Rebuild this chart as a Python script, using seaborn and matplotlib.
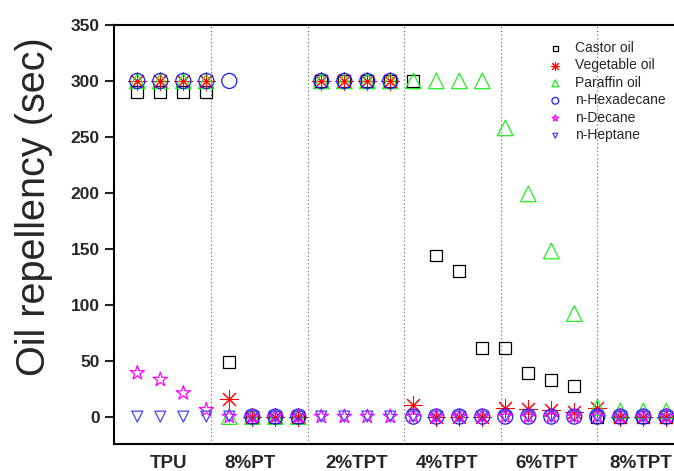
import matplotlib
matplotlib.use("Agg")
import matplotlib.pyplot as plt
import seaborn as sns
import numpy as np
import pandas as pd

# ---------------- data ----------------
groups = ["TPU", "8%PT", "2%TPT", "4%TPT", "6%TPT", "8%TPT"]
sample_x = [1, 2, 3, 4, 5, 6, 7, 8, 9, 10, 11, 12,
            13, 14, 15, 16, 17, 18, 19, 20, 21, 22, 23, 24]

castor_oil = [290, 290, 290, 290, 49, 0, 0, 0, 300, 300, 300, 300,
              300, 144, 130, 61, 61, 39, 33, 27, 0, 0, 0, 0]
vegetable_oil = [300, 300, 300, 300, 16, 0, 0, 0, 300, 300, 300, 300,
                 10, 0, 0, 0, 8, 7, 6, 4, 8, 0, 0, 0]
paraffin_oil = [300, 300, 300, 300, 0, 0, 0, 0, 300, 300, 300, 300,
                300, 300, 300, 300, 258, 199, 148, 92, 8, 5, 5, 5]
n_hexadecane = [300, 300, 300, 300, 300, 0, 0, 0, 300, 300, 300, 300,
                0, 0, 0, 0, 0, 0, 0, 0, 0, 0, 0, 0]
n_decane = [39, 33, 21, 6, 0, 0, 0, 0, 0, 0, 0, 0,
            0, 0, 0, 0, 0, 0, 0, 0, 0, 0, 0, 0]
n_heptane = [0, 0, 0, 0, 0, 0, 0, 0, 0, 0, 0, 0,
             0, 0, 0, 0, 0, 0, 0, 0, 0, 0, 0, 0]

series_names = ["Castor oil", "Vegetable oil", "Paraffin oil",
                "n-Hexadecane", "n-Decane", "n-Heptane"]
series_values = [castor_oil, vegetable_oil, paraffin_oil,
                 n_hexadecane, n_decane, n_heptane]

# group label positions and divider positions (layout)
group_tick_pos = [2.37, 5.9, 10.54, 14.45, 18.8, 22.9]
divider_pos = [4.2, 8.4, 12.6, 16.8, 21.0]

# ---------------- style ----------------
sns.set_style("ticks")
plt.rcParams["font.family"] = ["Liberation Sans", "DejaVu Sans"]

styles = {
    "Castor oil":    dict(marker="s", color="#000000", s=74, fill=False, lw=0.9),
    "Vegetable oil": dict(marker=(8, 2, 0), color="#ff0000", s=160, fill=True, lw=0.75),
    "Paraffin oil":  dict(marker="^", color="#22ee22", s=125, fill=False, lw=0.9),
    "n-Hexadecane":  dict(marker="o", color="#1a1aff", s=117, fill=False, lw=0.9),
    "n-Decane":      dict(marker="*", color="#ff00ff", s=115, fill=False, lw=0.9),
    "n-Heptane":     dict(marker="v", color="#4444ff", s=62, fill=False, lw=0.9),
}

fig = plt.figure(figsize=(6.74, 4.71), dpi=100)
W, H = 674, 471
ax = fig.add_axes([114.3 / W, 1 - 444 / H, (689.3 - 114.3) / W, (444 - 25) / H])

for name, vals in zip(series_names, series_values):
    st = styles[name]
    df = pd.DataFrame({"x": sample_x, "y": vals})
    if st["fill"]:
        sns.scatterplot(data=df, x="x", y="y", ax=ax, marker=st["marker"],
                        s=st["s"], color=st["color"], edgecolor=st["color"],
                        linewidths=st["lw"], label=name, zorder=3)
    else:
        sns.scatterplot(data=df, x="x", y="y", ax=ax, marker=st["marker"],
                        s=st["s"], facecolor="none", edgecolor=st["color"],
                        linewidths=st["lw"], label=name, zorder=3)

for xv in divider_pos:
    ax.axvline(xv, color="#777777", linestyle=(0, (1, 2)), linewidth=0.9, zorder=1)

ax.set_xlim(0, 25)
ax.set_ylim(-24.5, 350)
ax.set_yticks([0, 50, 100, 150, 200, 250, 300, 350])
ax.set_xticks(group_tick_pos)
ax.set_xticklabels(groups, fontsize=13.5, fontweight="bold")
ax.tick_params(axis="x", length=0, pad=8)
ax.tick_params(axis="y", length=6.5, width=1.5, direction="out", pad=4,
               labelsize=12.5)
for lab in ax.get_yticklabels():
    lab.set_fontweight("bold")

ax.set_xlabel("")
ax.set_ylabel("Oil repellency (sec)", fontsize=28.5)
ax.yaxis.set_label_coords(-0.1066, 0.566)

for sp in ["left", "bottom", "top", "right"]:
    ax.spines[sp].set_linewidth(1.5)
    ax.spines[sp].set_color("black")

ax.legend(loc="upper left", bbox_to_anchor=(547 / W, 1 - 41 / H),
          bbox_transform=fig.transFigure, frameon=False, fontsize=10,
          markerscale=0.45, handlelength=1.2, handletextpad=0.8,
          labelspacing=0.25, borderpad=0, borderaxespad=0, scatterpoints=1)

fig.savefig("out.png", dpi=100)
